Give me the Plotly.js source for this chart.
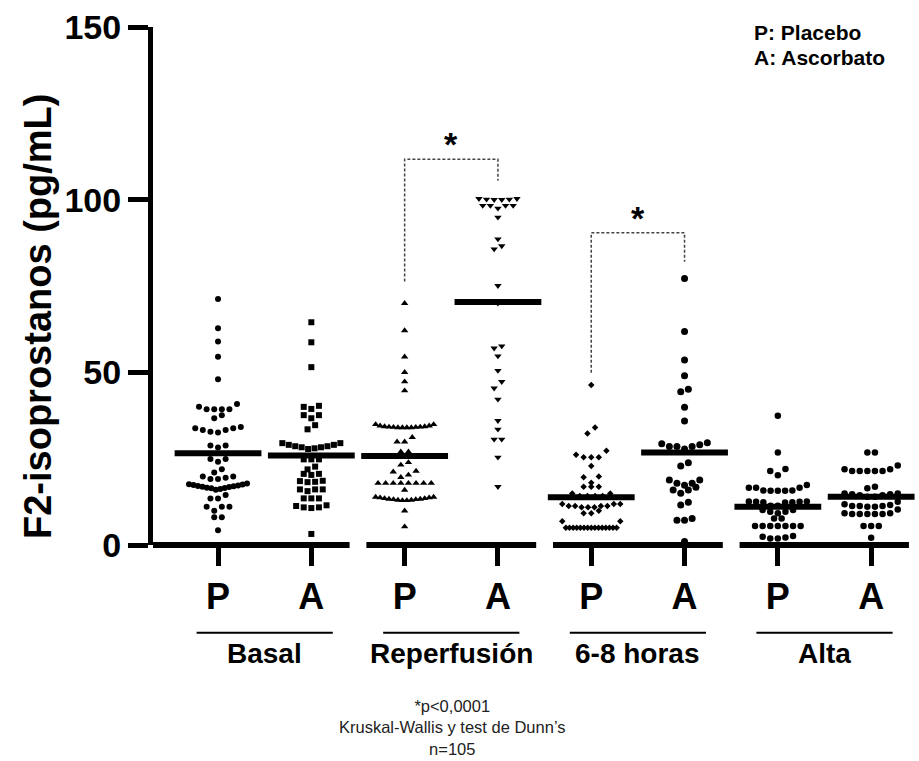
<!DOCTYPE html>
<html>
<head>
<meta charset="utf-8">
<script src="https://cdn.plot.ly/plotly-3.0.1.min.js"></script>
<style>html,body{margin:0;padding:0;background:#fff}</style>
</head>
<body>
<div id="chart" style="width:919px;height:761px"></div>
<script>
// Phases and treatment arms
const phases = ['Basal', 'Reperfusión', '6-8 horas', 'Alta'];
const armLabels = ['P', 'A', 'P', 'A', 'P', 'A', 'P', 'A'];

// F2-isoprostanos (pg/mL) per phase and arm
const basalP = [71.2, 62.8, 58.9, 54.5, 48.0,
  40.8, 40.0, 39.3, 39.3, 39.3, 39.3,
  37.6, 36.7,
  34.2, 33.8, 33.8, 33.3, 33.3, 32.8, 32.6,
  28.8, 28.8, 28.2,
  24.9, 24.9, 24.1,
  21.9, 21.0,
  19.8, 19.8, 19.5, 19.1, 19.1,
  17.8, 17.6, 17.5, 17.4, 17.2, 17.1, 17.0, 16.9, 16.8, 16.6, 16.5, 16.4, 16.2, 16.0,
  14.5, 13.5, 13.5,
  11.1, 11.1, 11.1, 9.9,
  8.0, 8.0,
  4.3];
const basalA = [64.5, 58.7, 51.5,
  40.3, 40.0, 39.4,
  37.6, 37.6, 36.7,
  34.7, 33.5,
  29.5, 29.5, 29.0, 29.0, 28.6, 28.6, 28.3, 28.3, 28.0, 27.8,
  24.8, 24.8, 24.8,
  22.7, 21.9,
  20.6, 20.3, 20.6,
  18.6, 18.3, 18.5, 18.2,
  16.1, 16.1, 16.1, 15.6,
  13.5, 13.5, 13.5,
  11.5, 11.3, 10.9, 10.9, 10.7,
  3.2];
const reperfP = [70.0, 62.1, 54.5, 50.0, 47.3, 44.7,
  34.9, 34.5, 34.3, 34.2, 34.1, 34.0, 34.0, 34.0, 34.0, 34.1, 34.2, 34.3, 34.5, 34.9,
  31.2, 29.9, 29.9,
  27.0, 27.0,
  23.9, 23.2,
  21.4, 21.2, 20.3, 19.6,
  17.9, 17.9, 17.9, 17.9, 17.9, 17.9, 17.9, 17.9,
  15.9,
  13.9, 13.7, 13.5, 13.3, 13.2, 13.0, 12.9, 12.9, 13.0, 13.2, 13.3, 13.5, 13.7, 13.9,
  9.9, 5.3];
const reperfA = [100.3, 100.1, 100.0, 100.0, 100.1, 100.3, 98.3, 98.3, 98.3, 98.3, 97.5,
  94.9, 88.6, 86.6, 85.7, 75.1, 70.0, 57.6, 57.0, 54.7, 50.5, 47.3, 45.4, 42.2,
  36.0, 33.5, 30.6, 30.6, 25.4, 16.9];
const horasP = [46.3,
  34.0, 32.3,
  27.3, 26.1, 25.4, 25.4, 25.4,
  22.9,
  19.8, 19.6, 18.0,
  16.9, 16.9, 16.9,
  14.9, 14.9, 14.2, 14.2, 14.2, 14.2,
  11.9, 11.9, 11.9, 11.3, 11.3, 11.3, 11.3, 10.9, 10.9, 10.9,
  9.9, 9.2, 9.2,
  6.9, 6.9,
  5.0, 5.0, 5.0, 5.0, 5.0, 5.0, 5.0, 5.0, 5.0, 5.0, 5.0, 5.0, 5.0, 5.0, 5.0];
const horasA = [77.2, 61.8, 53.6, 49.0, 45.1, 44.4, 39.9, 35.9,
  29.6, 29.3, 29.0, 28.5, 28.5, 28.5, 27.8,
  23.8, 22.9,
  18.8, 18.8, 17.9, 17.9, 17.3, 16.7, 15.9, 15.9, 15.0,
  12.4, 11.6,
  7.7, 7.2, 7.2,
  1.0];
const altaP = [37.4, 26.8,
  22.0, 21.4, 20.2,
  17.4, 16.6, 16.6, 15.8, 15.8, 15.7, 15.7, 15.7, 16.6,
  12.6, 12.6, 12.5, 12.5, 12.4, 12.4, 12.3, 11.4, 11.4,
  10.1, 10.1, 9.6, 9.6, 9.2,
  7.7, 7.7,
  5.5, 5.5, 5.5, 5.5, 5.5, 5.5, 5.5,
  2.6, 2.4, 2.2, 1.9, 1.9];
const altaA = [26.8, 26.8,
  23.0, 21.9, 21.9, 21.4, 21.4, 21.4, 21.4, 21.4,
  16.9, 16.4,
  14.9, 14.9, 14.7, 14.7, 14.4, 14.4, 14.0, 14.0,
  12.5, 11.8, 11.6, 11.3, 11.3, 11.3, 11.1, 11.1,
  10.3, 9.2, 9.2, 9.0, 9.0, 9.0, 9.0, 9.0,
  5.5, 5.5, 5.5,
  2.1];
const columns = [basalP, basalA, reperfP, reperfA, horasP, horasA, altaP, altaA];

// Central line of each column
const medians = [26.6, 25.9, 25.8, 70.4, 13.8, 26.8, 11.1, 14.0];

// Marker symbol and size of each column
const symbols = ['circle', 'square', 'triangle-up', 'triangle-down', 'diamond', 'circle', 'circle', 'circle'];
const sizes = [6, 6, 6.5, 6.5, 5, 7, 6.5, 6.5];

// Significance brackets: [left column, right column, left foot, top, right foot]
const brackets = [[2, 3, 76.3, 111.7, 105.5], [4, 5, 49.9, 90.4, 82.0]];

// Footnote
const footnote = ['*p<0,0001', 'Kruskal-Wallis y test de Dunn’s', 'n=105'];

// Geometry
const W = 919, H = 761;
const M = {l: 153, r: 11, t: 27, b: 216};
const PW = W - M.l - M.r, PH = H - M.t - M.b;
const XMIN = -0.697, XMAX = 7.395, YMAX = 150;
const PX_X = PW / (XMAX - XMIN);
const px = x => (x - XMIN) / (XMAX - XMIN);   // data x -> paper x

// Rows of a dot plot: values binned from the top, spread sideways
function dotOffsets(values, center) {
  const BIN = 1.9, GAP = 7.6, MAXW = 58;
  const order = values.map((v, i) => i).sort((a, b) => values[b] - values[a]);
  const xs = new Array(values.length);
  let i = 0;
  while (i < order.length) {
    const top = values[order[i]];
    const row = [];
    while (i < order.length && values[order[i]] >= top - BIN - 1e-9) { row.push(order[i]); i++; }
    const n = row.length;
    const step = n > 1 ? Math.min(GAP, MAXW / (n - 1)) : 0;
    const slots = [...Array(n).keys()].map(k => (k - (n - 1) / 2) * step)
      .sort((a, b) => Math.abs(a) - Math.abs(b) || a - b);
    row.sort((a, b) => values[a] - values[b]);
    row.forEach((idx, k) => { xs[idx] = center + slots[k] / PX_X; });
  }
  return xs;
}

const traces = columns.map((vals, c) => ({
  type: 'scatter', mode: 'markers',
  x: dotOffsets(vals, c), y: vals,
  cliponaxis: false, hoverinfo: 'skip',
  marker: {symbol: symbols[c], size: sizes[c], color: '#000', line: {width: 0}}
}));
traces.push({
  type: 'scatter', mode: 'markers',
  x: medians.map((m, c) => c), y: medians,
  cliponaxis: false, hoverinfo: 'skip',
  marker: {symbol: 'line-ew', size: 62, color: '#000', line: {width: 6, color: '#000'}}
});

const FAMILY = 'Liberation Sans, Arial, sans-serif';
const bold = (size) => ({family: FAMILY, size: size, color: '#000', weight: 700});

const shapes = [];
// Broken x axis: one segment per phase
phases.forEach((p, g) => {
  const mid = 2 * g + 0.5;
  const x0 = g === 0 ? XMIN : mid - 0.91;
  const x1 = Math.min(mid + 0.91, XMAX + 0.01);
  shapes.push({type: 'line', xref: 'paper', yref: 'paper', x0: px(x0), x1: px(x1), y0: 0, y1: 0,
    line: {color: '#000', width: 6}});
  // underline above the phase name
  shapes.push({type: 'line', xref: 'paper', yref: 'paper', x0: px(mid - 0.73), x1: px(mid + 0.73),
    y0: -87.7 / PH, y1: -87.7 / PH, line: {color: '#000', width: 2}});
});
brackets.forEach(b => {
  shapes.push({type: 'path', xref: 'x', yref: 'y',
    path: `M ${b[0]},${b[2]} L ${b[0]},${b[3]} L ${b[1]},${b[3]} L ${b[1]},${b[4]}`,
    line: {color: '#444', width: 1.5, dash: '3px,2px'}});
});

const annotations = [];
phases.forEach((p, g) => {
  annotations.push({text: p, xref: 'paper', yref: 'paper', x: px(2 * g + 0.5), y: -108 / PH,
    xanchor: 'center', yanchor: 'middle', showarrow: false, font: bold(28)});
});
brackets.forEach(b => {
  annotations.push({text: '*', xref: 'x', yref: 'y', x: (b[0] + b[1]) / 2, y: b[3] - 1.7,
    xanchor: 'center', yanchor: 'bottom', showarrow: false, font: bold(34)});
});
annotations.push({text: 'F2-isoprostanos (pg/mL)', xref: 'paper', yref: 'paper',
  x: (38 - M.l) / PW, y: (545 - 317) / PH, textangle: -90,
  xanchor: 'center', yanchor: 'middle', showarrow: false, font: bold(38)});
annotations.push({text: 'P: Placebo', xref: 'paper', yref: 'paper', x: (752 - M.l) / PW, y: (545 - 33) / PH,
  xanchor: 'left', yanchor: 'middle', showarrow: false, font: bold(21)});
annotations.push({text: 'A: Ascorbato', xref: 'paper', yref: 'paper', x: (752 - M.l) / PW, y: (545 - 57) / PH,
  xanchor: 'left', yanchor: 'middle', showarrow: false, font: bold(21)});
annotations.push({text: footnote.join('<br>'), xref: 'paper', yref: 'paper', x: (452 - M.l) / PW, y: (545 - 727) / PH,
  xanchor: 'center', yanchor: 'middle', align: 'center', showarrow: false,
  font: {family: FAMILY, size: 16.5, color: '#222'}});

const layout = {
  width: W, height: H, margin: M,
  paper_bgcolor: '#fff', plot_bgcolor: '#fff',
  showlegend: false,
  xaxis: {range: [XMIN, XMAX], tickvals: armLabels.map((a, i) => i), ticktext: armLabels,
    ticks: 'outside', ticklen: 20, tickwidth: 5, tickcolor: '#000',
    showline: false, showgrid: false, zeroline: false, tickfont: bold(36), fixedrange: true},
  yaxis: {range: [0, YMAX], tickvals: [0, 50, 100, 150],
    ticks: 'outside', ticklen: 20, tickwidth: 5, tickcolor: '#000',
    showline: true, linewidth: 5, linecolor: '#000',
    showgrid: false, zeroline: false, tickfont: bold(34), fixedrange: true},
  shapes: shapes,
  annotations: annotations
};

Plotly.newPlot('chart', traces, layout, {displayModeBar: false, staticPlot: true});
</script>
</body>
</html>
